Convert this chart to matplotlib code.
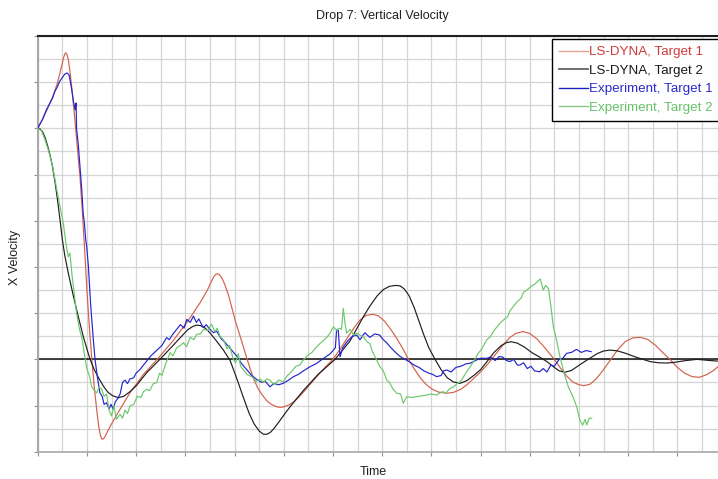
import matplotlib
matplotlib.use("Agg")
import matplotlib.pyplot as plt
from matplotlib.ticker import MultipleLocator, NullFormatter
from matplotlib.lines import Line2D

plt.rcParams['font.family'] = ['Liberation Sans', 'DejaVu Sans']

title = "Drop 7: Vertical Velocity"
xlabel = "Time"
ylabel = "X Velocity"
labels = ["LS-DYNA, Target 1", "LS-DYNA, Target 2", "Experiment, Target 1", "Experiment, Target 2"]

red_t = [0, 0.2, 0.4, 0.6, 0.8, 0.95, 1.05, 1.1, 1.14, 1.19, 1.25, 1.32, 1.4, 1.5, 1.6, 1.72, 1.82, 1.9,
         2.0, 2.1, 2.2, 2.3, 2.4, 2.48, 2.55, 2.6, 2.65, 2.72, 2.85, 3.0, 3.3, 3.75, 4.3, 4.9, 5.5, 6.1,
         6.6, 6.9, 7.05, 7.15, 7.25, 7.32, 7.4, 7.5, 7.6, 7.75, 7.9, 8.05, 8.2, 8.35, 8.5, 8.65, 8.8,
         8.95, 9.1, 9.3, 9.5, 9.7, 9.85, 10.0, 10.2, 10.4, 10.6, 10.8, 11.1, 11.4, 11.7, 12.0, 12.3,
         12.6, 12.85, 13.1, 13.35, 13.64, 13.85, 14.1, 14.35, 14.6, 14.85, 15.07, 15.3, 15.55, 15.8,
         16.05, 16.3, 16.63, 16.9, 17.2, 17.45, 17.7, 18.0, 18.3, 18.6, 18.9, 19.2, 19.45, 19.74, 20.0,
         20.3, 20.6, 20.8, 21.0, 21.25, 21.5, 21.75, 22.0, 22.2, 22.45, 22.7, 23.0, 23.3, 23.6, 23.9,
         24.2, 24.5, 24.8, 25.1, 25.4, 25.7, 26.0, 26.3, 26.6, 26.9, 27.2, 27.45, 27.7]
red_v = [10, 10.4, 10.85, 11.35, 11.95, 12.6, 13.05, 13.22, 13.27, 13.2, 12.95, 12.4, 11.6, 10.5, 9.3, 7.9, 6.3, 4.9,
         3.0, 1.4, 0.0, -1.2, -2.2, -2.9, -3.3, -3.44, -3.46, -3.38, -3.1, -2.8, -2.25, -1.45, -0.65, 0.05, 0.8, 1.65,
         2.45, 3.0, 3.35, 3.57, 3.69, 3.7, 3.65, 3.5, 3.25, 2.8, 2.2, 1.6, 1.1, 0.58, 0.05, -0.45, -0.9,
         -1.25, -1.5, -1.78, -1.95, -2.05, -2.08, -2.06, -1.98, -1.85, -1.65, -1.42, -1.05, -0.68, -0.33, 0.0, 0.45,
         0.95, 1.35, 1.7, 1.9, 1.95, 1.88, 1.65, 1.3, 0.9, 0.45, 0.0, -0.4, -0.8, -1.1,
         -1.3, -1.42, -1.47, -1.43, -1.3, -1.1, -0.85, -0.55, -0.2, 0.2, 0.6, 0.95, 1.13, 1.2, 1.12,
         0.88, 0.52, 0.26, 0.0, -0.38, -0.72, -0.98, -1.1, -1.14, -1.08, -0.85, -0.45, 0.0, 0.45, 0.78,
         0.93, 0.95, 0.86, 0.62, 0.3, 0.0, -0.35, -0.6, -0.75, -0.78, -0.66, -0.5, -0.28]

black_t = [0, 0.1, 0.2, 0.3, 0.4, 0.5, 0.6, 0.7, 0.8, 0.9, 1.0, 1.1, 1.25, 1.45, 1.65, 1.85, 2.0, 2.13,
           2.3, 2.5, 2.67, 2.85, 3.05, 3.28, 3.5, 3.75, 4.0, 4.43, 4.97, 5.5, 5.85, 6.1, 6.3, 6.46, 6.62,
           6.8, 7.0, 7.25, 7.55, 7.82, 8.1, 8.36, 8.6, 8.8, 9.0, 9.17, 9.3, 9.45, 9.6, 9.8, 10.05, 10.3,
           10.8, 11.4, 12.09, 12.7, 13.24, 13.5, 13.8, 14.05, 14.3, 14.55, 14.73, 14.9, 15.1, 15.3, 15.5,
           15.67, 15.9, 16.15, 16.4, 16.65, 16.9, 17.17, 17.45, 17.75, 18.0, 18.3, 18.55, 18.85, 19.05,
           19.25, 19.5, 19.8, 20.1, 20.4, 20.7, 21.0, 21.2, 21.43, 21.7, 21.95, 22.2, 22.45, 22.75, 23.0,
           23.26, 23.55, 23.9, 24.25, 24.6, 24.9, 25.25, 25.6, 25.95, 26.3, 26.8, 27.3, 27.7]
black_v = [10, 9.97, 9.85, 9.6, 9.25, 8.85, 8.35, 7.7, 6.95, 6.1, 5.2, 4.5, 3.7, 2.74, 1.85, 1.0, 0.45, 0.0,
           -0.45, -0.85, -1.16, -1.42, -1.58, -1.66, -1.6, -1.4, -1.15, -0.58, 0.0, 0.6, 1.0, 1.28, 1.42, 1.48, 1.46,
           1.36, 1.15, 0.82, 0.4, -0.05, -0.85, -1.65, -2.35, -2.8, -3.1, -3.24, -3.25, -3.17, -3.0, -2.72, -2.35, -2.0,
           -1.35, -0.65, 0.0, 0.8, 1.85, 2.3, 2.75, 3.02, 3.16, 3.2, 3.18, 3.05, 2.75, 2.25, 1.65,
           1.13, 0.5, 0.0, -0.45, -0.8, -0.98, -1.04, -0.92, -0.68, -0.45, -0.05, 0.3, 0.6, 0.72,
           0.76, 0.7, 0.52, 0.28, 0.1, -0.1, -0.35, -0.5, -0.56, -0.48, -0.3, -0.12, 0.05, 0.25, 0.36,
           0.4, 0.37, 0.26, 0.12, 0.0, -0.1, -0.15, -0.16, -0.12, -0.06, 0.0, -0.05, -0.08]

blue_t = [0, 0.2, 0.35, 0.5, 0.6, 0.7, 0.8, 0.9, 1.0, 1.1, 1.2, 1.28, 1.38, 1.45, 1.52, 1.56, 1.58, 1.65,
          1.72, 1.79, 1.85, 1.9, 1.95, 1.99, 2.06, 2.15, 2.25, 2.33, 2.43, 2.53, 2.62, 2.7, 2.8, 2.9, 2.98,
          3.07, 3.15, 3.25, 3.35, 3.45, 3.55, 3.65, 3.75, 3.9, 4.0, 4.15, 4.3, 4.43, 4.6, 4.75, 4.9, 5.05,
          5.24, 5.35, 5.5, 5.65, 5.8, 5.95, 6.06, 6.2, 6.33, 6.45, 6.55, 6.73, 6.85, 7.0, 7.15, 7.28, 7.45,
          7.6, 7.8, 8.0, 8.09, 8.3, 8.5, 8.7, 8.9, 9.1, 9.25, 9.44, 9.6, 9.8, 9.98, 10.2, 10.4, 10.6, 10.8,
          11.07, 11.3, 11.5, 11.7, 11.9, 12.02, 12.1, 12.15, 12.22, 12.29, 12.4, 12.6, 12.8, 12.97, 13.1,
          13.3, 13.5, 13.7, 13.9, 14.05, 14.2, 14.32, 14.5, 14.7, 14.86, 15.1, 15.3, 15.5, 15.7, 15.9,
          16.05, 16.22, 16.4, 16.5, 16.63, 16.8, 17.0, 17.2, 17.4, 17.58, 17.8, 18.0, 18.25, 18.4, 18.6,
          18.75, 18.9, 19.05, 19.2, 19.35, 19.5, 19.6, 19.75, 19.9, 20.05, 20.2, 20.4, 20.55, 20.7, 20.86,
          21.0, 21.2, 21.35, 21.5, 21.7, 21.9, 22.1, 22.3, 22.5]
blue_v = [10, 10.4, 10.8, 11.1, 11.3, 11.6, 11.8, 12.05, 12.2, 12.35, 12.4, 12.3, 11.7, 11.2, 10.8, 11.1, 10.0, 9.3,
          8.3, 7.36, 6.3, 5.9, 5.2, 4.9, 4.04, 2.4, 1.0, 0.0, -0.8, -1.45, -1.6, -1.95, -1.88, -2.15, -1.95,
          -2.16, -1.85, -1.7, -1.5, -1.0, -0.9, -1.05, -0.85, -0.8, -0.6, -0.45, -0.25, -0.07, 0.15, 0.3, 0.45, 0.6,
          0.94, 0.85, 1.1, 1.3, 1.5, 1.35, 1.73, 1.6, 1.87, 1.6, 1.75, 1.37, 1.5, 1.3, 1.15, 1.22, 0.9,
          0.75, 0.5, 0.25, 0.14, -0.2, -0.45, -0.7, -0.87, -1.0, -0.95, -1.19, -1.05, -1.1, -1.04, -0.9, -0.75, -0.65, -0.5,
          -0.32, -0.2, -0.05, 0.1, 0.25, 0.4, 0.5, 1.27, 1.25, 0.11, 0.5, 0.8, 1.0, 1.05, 0.85,
          1.15, 0.95, 1.1, 1.05, 0.85, 0.7, 0.55, 0.35, 0.15, 0.04, -0.1, -0.25, -0.35, -0.5, -0.6,
          -0.65, -0.75, -0.7, -0.5, -0.46, -0.55, -0.35, -0.3, -0.2, -0.17, -0.05, 0.05, 0.04, 0.1, -0.05,
          0.12, 0.1, -0.05, -0.1, 0.0, -0.25, -0.25, -0.15, -0.4, -0.3, -0.5, -0.54, -0.4, -0.55, -0.25,
          -0.3, 0.0, 0.05, 0.26, 0.3, 0.43, 0.3, 0.38, 0.33]

green_t = [0, 0.15, 0.3, 0.45, 0.6, 0.8, 0.95, 1.04, 1.15, 1.24, 1.31, 1.4, 1.5, 1.58, 1.7, 1.8, 1.9, 2.0,
           2.1, 2.2, 2.3, 2.4, 2.5, 2.6, 2.7, 2.8, 2.9, 3.0, 3.1, 3.2, 3.35, 3.45, 3.55, 3.65, 3.75, 3.9,
           4.05, 4.2, 4.3, 4.43, 4.55, 4.7, 4.84, 4.95, 5.05, 5.2, 5.38, 5.5, 5.65, 5.8, 5.92, 6.05, 6.2,
           6.35, 6.46, 6.6, 6.75, 6.9, 7.07, 7.2, 7.3, 7.41, 7.55, 7.7, 7.8, 7.95, 8.05, 8.15, 8.25, 8.5,
           8.7, 8.9, 9.05, 9.17, 9.3, 9.44, 9.6, 9.8, 9.98, 10.15, 10.3, 10.5, 10.65, 10.8, 11.0, 11.15,
           11.3, 11.48, 11.6, 11.75, 11.88, 12.02, 12.15, 12.25, 12.35, 12.42, 12.5, 12.56, 12.7, 12.85,
           12.97, 13.1, 13.25, 13.4, 13.5, 13.6, 13.78, 13.9, 14.05, 14.19, 14.3, 14.45, 14.6, 14.75,
           14.86, 15.0, 15.2, 15.5, 15.8, 16.0, 16.2, 16.45, 16.6, 16.76, 16.9, 17.05, 17.2, 17.4, 17.58,
           17.75, 17.9, 18.05, 18.25, 18.4, 18.55, 18.79, 18.93, 19.1, 19.2, 19.33, 19.5, 19.65, 19.75,
           19.88, 20.0, 20.1, 20.2, 20.3, 20.43, 20.5, 20.55, 20.65, 20.76, 20.85, 20.96, 21.1, 21.23,
           21.4, 21.57, 21.75, 21.91, 22.04, 22.15, 22.25, 22.32, 22.42, 22.52]
green_v = [10, 9.9, 9.5, 9.0, 8.4, 7.2, 6.4, 5.9, 5.0, 4.44, 4.6, 3.6, 2.7, 2.0, 1.3, 0.9, 0.2, -0.43,
           -0.7, -1.2, -1.35, -1.45, -1.2, -1.3, -1.6, -1.5, -2.2, -2.45, -2.0, -2.6, -2.38, -2.55, -2.2, -2.35, -2.02, -1.95,
           -1.6, -1.65, -1.4, -1.3, -1.35, -1.05, -1.01, -0.6, -0.7, -0.2, 0.29, 0.15, 0.5, 0.6, 0.72, 0.55, 0.95,
           0.85, 1.08, 1.1, 1.3, 1.25, 1.52, 1.2, 1.35, 1.0, 0.85, 0.45, 0.6, 0.0, -0.15, 0.25, -0.3, -0.65,
           -0.75, -0.95, -0.85, -1.01, -0.85, -0.9, -1.1, -0.9, -0.97, -0.7, -0.55, -0.3, -0.25, -0.03, 0.2, 0.3,
           0.5, 0.69, 0.8, 0.95, 1.13, 1.41, 1.25, 1.35, 1.3, 2.21, 1.5, 1.13, 1.3, 1.05,
           1.13, 1.05, 0.95, 0.75, 0.69, 0.35, -0.03, -0.3, -0.5, -0.9, -1.0, -1.3, -1.47, -1.5,
           -1.9, -1.62, -1.65, -1.6, -1.55, -1.5, -1.55, -1.4, -1.45, -1.26, -1.2, -1.05, -0.95, -0.6, -0.32,
           -0.05, 0.25, 0.45, 0.84, 0.98, 1.25, 1.56, 1.7, 1.85, 2.1, 2.28, 2.5, 2.65, 2.9,
           3.0, 3.1, 3.2, 3.25, 3.35, 3.48, 3.2, 3.0, 3.2, 3.07, 2.4, 1.41, 0.8, 0.11,
           -0.6, -1.19, -1.6, -2.05, -2.63, -2.85, -2.6, -2.84, -2.55, -2.55]

W, H = 718, 479
fig = plt.figure(figsize=(W / 100, H / 100), dpi=100)
x0, x1, y0, y1 = 37.7, 718, 36, 451.7
ax = fig.add_axes([x0 / W, 1 - y1 / H, (x1 - x0) / W, (y1 - y0) / H])

ax.set_xlim(0, (x1 - x0) / 24.6)
ax.set_ylim(-4, 14)
ax.xaxis.set_major_locator(MultipleLocator(2))
ax.xaxis.set_minor_locator(MultipleLocator(1))
ax.yaxis.set_major_locator(MultipleLocator(2))
ax.yaxis.set_minor_locator(MultipleLocator(1))
ax.xaxis.set_major_formatter(NullFormatter())
ax.yaxis.set_major_formatter(NullFormatter())
ax.tick_params(which='major', direction='out', length=3, width=0.8, color='#909090')
ax.tick_params(which='minor', length=0)
ax.grid(which='both', color='#d4d4d4', linewidth=0.9)
ax.set_axisbelow(True)

ax.spines['right'].set_visible(False)
ax.spines['top'].set_color('#202020')
ax.spines['top'].set_linewidth(1.5)
ax.spines['left'].set_color('#a8a8a8')
ax.spines['left'].set_linewidth(1.5)
ax.spines['bottom'].set_color('#a8a8a8')
ax.spines['bottom'].set_linewidth(1.2)

ax.axhline(0, color='#101010', linewidth=1.1, zorder=1.5)

colors = ['#d4604c', '#1e1e1e', '#2424d0', '#6cc86c']
series = [(red_t, red_v), (black_t, black_v), (blue_t, blue_v), (green_t, green_v)]
for (t, v), c, lab in zip(series, colors, labels):
    ax.plot(t, v, color=c, linewidth=0.85, label=lab, zorder=3, solid_joinstyle='round')

leg_line_colors = ['#e8a090', '#707070', '#2020c0', '#88c888']
leg_text_colors = ['#d03a3a', '#1a1a1a', '#2a2acf', '#66c066']
lh = [Line2D([], [], color=c, linewidth=1.4 if i == 1 else 1.0) for i, c in enumerate(leg_line_colors)]
leg = fig.legend(lh, labels, loc='upper left', bbox_to_anchor=(551.7 / W, 1 - 39 / H),
                 bbox_transform=fig.transFigure, borderaxespad=0, borderpad=0.52,
                 handlelength=2.18, handletextpad=0.1, labelspacing=0.46, fontsize=9.6,
                 frameon=True, fancybox=False, framealpha=1, edgecolor='#000000')
leg.get_frame().set_linewidth(1.0)
for txt, c in zip(leg.get_texts(), leg_text_colors):
    txt.set_color(c)

fig.text(382 / W, 1 - 19 / H, title, ha='center', va='baseline', fontsize=9, color='#202020')
fig.text(373 / W, 1 - 472 / H, xlabel, ha='center', va='center', fontsize=9, color='#202020')
fig.text(15 / W, 1 - 257 / H, ylabel, ha='center', va='center', rotation=90, fontsize=9, color='#202020')

fig.savefig('out.png', dpi=100)
